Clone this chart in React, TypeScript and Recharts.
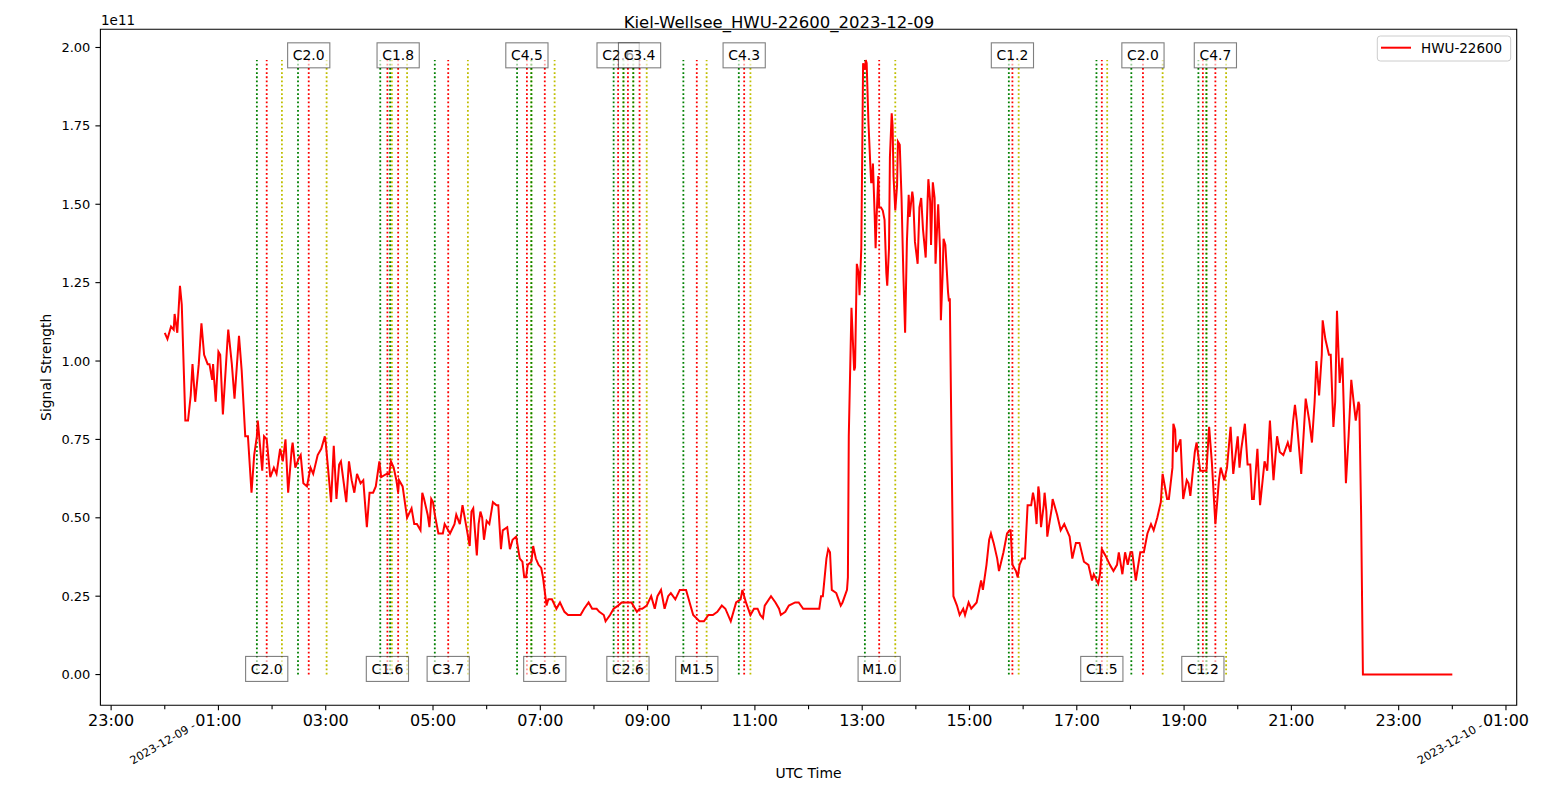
import {
  LineChart,
  Line,
  XAxis,
  YAxis,
  ReferenceLine,
  ReferenceDot,
  ReferenceArea,
} from 'recharts';

const TITLE = 'Kiel-Wellsee_HWU-22600_2023-12-09';
const SERIES_NAME = 'HWU-22600';

// [minutes after 2023-12-09 00:00 UTC, signal strength in units of 1e11]
const SIGNAL: [number, number][] = [
  [0, 1.09], [3, 1.07], [7, 1.11], [10, 1.1], [11, 1.15], [14, 1.09], [17, 1.24], [19, 1.18],
  [23, 0.81], [26, 0.81], [29, 0.89], [31, 0.99], [34, 0.87], [38, 0.99], [41, 1.12], [44, 1.02],
  [48, 0.99], [50, 0.99], [53, 0.94], [54, 0.99], [57, 0.87], [60, 1.03], [62, 1.02], [65, 0.83],
  [70, 1.06], [71, 1.1], [75, 0.99], [78, 0.88], [83, 1.08], [86, 0.97], [90, 0.76], [93, 0.76],
  [97, 0.58], [100, 0.7], [103, 0.76], [104, 0.81], [109, 0.65], [111, 0.76], [114, 0.75], [118, 0.63],
  [122, 0.66], [125, 0.64], [129, 0.72], [132, 0.68], [135, 0.75], [138, 0.58], [142, 0.72], [143, 0.74],
  [146, 0.66], [150, 0.69], [152, 0.7], [155, 0.61], [159, 0.6], [163, 0.66], [166, 0.64], [171, 0.7],
  [175, 0.72], [179, 0.76], [180, 0.74], [186, 0.55], [189, 0.73], [192, 0.56], [195, 0.67], [197, 0.68],
  [203, 0.55], [206, 0.68], [209, 0.62], [212, 0.58], [215, 0.64], [219, 0.61], [222, 0.62], [226, 0.47],
  [229, 0.58], [233, 0.58], [236, 0.6], [240, 0.68], [242, 0.63], [248, 0.64], [251, 0.64], [253, 0.68],
  [256, 0.66], [259, 0.62], [261, 0.58], [262, 0.62], [266, 0.6], [271, 0.5], [276, 0.53], [279, 0.48],
  [282, 0.48], [286, 0.46], [288, 0.58], [290, 0.56], [294, 0.51], [296, 0.47], [298, 0.56], [300, 0.55],
  [302, 0.51], [306, 0.45], [311, 0.45], [313, 0.48], [317, 0.46], [319, 0.45], [324, 0.48], [326, 0.51],
  [330, 0.48], [333, 0.54], [338, 0.46], [341, 0.41], [343, 0.52], [345, 0.53], [349, 0.38], [351, 0.48],
  [353, 0.52], [355, 0.5], [357, 0.43], [360, 0.49], [363, 0.48], [367, 0.55], [371, 0.54], [373, 0.54],
  [376, 0.4], [378, 0.46], [383, 0.47], [386, 0.4], [389, 0.43], [393, 0.44], [397, 0.37], [400, 0.36],
  [402, 0.31], [404, 0.31], [406, 0.35], [410, 0.36], [412, 0.41], [415, 0.37], [418, 0.35], [421, 0.34],
  [423, 0.31], [427, 0.22], [429, 0.24], [433, 0.24], [438, 0.21], [442, 0.23], [447, 0.2], [451, 0.19],
  [456, 0.19], [460, 0.19], [465, 0.19], [469, 0.21], [474, 0.23], [478, 0.21], [483, 0.21], [486, 0.2],
  [491, 0.19], [493, 0.17], [498, 0.19], [502, 0.21], [507, 0.22], [511, 0.23], [515, 0.23], [518, 0.23],
  [522, 0.23], [526, 0.21], [528, 0.2], [531, 0.21], [534, 0.21], [539, 0.22], [544, 0.25], [548, 0.21],
  [551, 0.25], [555, 0.27], [559, 0.21], [563, 0.25], [566, 0.26], [571, 0.24], [576, 0.27], [580, 0.27],
  [583, 0.27], [585, 0.25], [591, 0.19], [598, 0.17], [603, 0.17], [608, 0.19], [613, 0.19], [618, 0.2],
  [623, 0.22], [627, 0.21], [633, 0.17], [639, 0.23], [644, 0.24], [646, 0.27], [650, 0.23], [655, 0.19],
  [659, 0.21], [663, 0.21], [666, 0.19], [669, 0.18], [671, 0.22], [678, 0.25], [683, 0.23], [687, 0.21],
  [689, 0.19], [694, 0.2], [698, 0.22], [705, 0.23], [709, 0.23], [714, 0.21], [718, 0.21], [723, 0.21],
  [727, 0.21], [732, 0.21], [734, 0.25], [736, 0.25], [740, 0.37], [742, 0.4], [744, 0.39], [746, 0.27],
  [751, 0.26], [756, 0.22], [758, 0.23], [763, 0.27], [764, 0.31], [765, 0.76], [768, 1.17], [771, 0.97],
  [772, 0.98], [774, 1.31], [776, 1.28], [777, 1.21], [779, 1.36], [781, 1.95], [783, 1.93], [784, 1.96],
  [785, 1.95], [787, 1.76], [789, 1.63], [790, 1.57], [791, 1.57], [792, 1.63], [794, 1.46], [795, 1.36],
  [796, 1.45], [798, 1.59], [799, 1.49], [801, 1.49], [803, 1.48], [805, 1.45], [807, 1.28], [808, 1.24],
  [810, 1.36], [811, 1.65], [813, 1.79], [814, 1.75], [815, 1.59], [817, 1.48], [819, 1.56], [820, 1.7],
  [822, 1.69], [824, 1.52], [826, 1.28], [828, 1.09], [830, 1.38], [832, 1.53], [833, 1.46], [836, 1.54],
  [837, 1.52], [839, 1.38], [842, 1.31], [844, 1.49], [846, 1.52], [848, 1.42], [851, 1.33], [853, 1.5],
  [854, 1.58], [856, 1.51], [857, 1.37], [859, 1.57], [861, 1.52], [862, 1.31], [864, 1.44], [865, 1.5],
  [867, 1.36], [868, 1.13], [870, 1.28], [871, 1.39], [873, 1.37], [874, 1.32], [876, 1.22], [877, 1.19],
  [878, 1.2], [880, 0.71], [882, 0.25], [886, 0.22], [889, 0.19], [893, 0.21], [895, 0.19], [899, 0.23],
  [902, 0.21], [908, 0.23], [913, 0.3], [915, 0.27], [917, 0.31], [919, 0.35], [922, 0.43], [924, 0.45],
  [927, 0.42], [931, 0.37], [933, 0.33], [938, 0.39], [942, 0.45], [945, 0.46], [946, 0.46], [948, 0.35],
  [952, 0.33], [954, 0.31], [956, 0.35], [959, 0.37], [962, 0.37], [965, 0.54], [969, 0.54], [971, 0.58],
  [973, 0.55], [975, 0.48], [977, 0.6], [978, 0.58], [980, 0.47], [983, 0.54], [984, 0.58], [986, 0.52],
  [987, 0.44], [992, 0.53], [993, 0.56], [998, 0.51], [1002, 0.46], [1006, 0.48], [1009, 0.46], [1012, 0.44],
  [1015, 0.37], [1019, 0.42], [1023, 0.42], [1028, 0.36], [1033, 0.35], [1037, 0.3], [1039, 0.32], [1044, 0.29],
  [1046, 0.32], [1048, 0.4], [1052, 0.38], [1057, 0.35], [1061, 0.33], [1065, 0.35], [1067, 0.39], [1071, 0.32],
  [1074, 0.39], [1077, 0.35], [1080, 0.39], [1082, 0.39], [1086, 0.3], [1091, 0.39], [1095, 0.39], [1099, 0.45],
  [1103, 0.48], [1106, 0.46], [1110, 0.5], [1114, 0.55], [1116, 0.64], [1121, 0.56], [1123, 0.56], [1127, 0.66],
  [1128, 0.8], [1130, 0.78], [1131, 0.71], [1136, 0.75], [1139, 0.56], [1143, 0.62], [1145, 0.61], [1147, 0.57],
  [1152, 0.71], [1154, 0.74], [1158, 0.65], [1162, 0.65], [1165, 0.65], [1168, 0.79], [1171, 0.68], [1175, 0.48],
  [1179, 0.62], [1181, 0.66], [1185, 0.62], [1188, 0.66], [1192, 0.79], [1195, 0.64], [1200, 0.76], [1202, 0.66],
  [1204, 0.72], [1208, 0.8], [1211, 0.67], [1214, 0.67], [1216, 0.56], [1218, 0.56], [1222, 0.72], [1225, 0.54],
  [1230, 0.68], [1233, 0.65], [1236, 0.81], [1240, 0.62], [1244, 0.76], [1247, 0.71], [1251, 0.7], [1256, 0.74],
  [1259, 0.71], [1262, 0.81], [1264, 0.86], [1266, 0.81], [1271, 0.64], [1274, 0.78], [1276, 0.88], [1280, 0.81],
  [1283, 0.74], [1286, 0.87], [1288, 1.0], [1291, 0.89], [1294, 1.02], [1295, 1.13], [1298, 1.07], [1302, 1.02],
  [1304, 1.02], [1307, 0.79], [1309, 0.87], [1311, 1.16], [1314, 0.93], [1317, 1.01], [1320, 0.71], [1321, 0.61],
  [1324, 0.76], [1327, 0.94], [1330, 0.86], [1332, 0.81], [1335, 0.87], [1336, 0.86], [1338, 0.51], [1340, 0],
  [1440, 0],
];

// flares: class, start / peak / end (UTC, 2023-12-09)
const FLARE_CLASS = [
  'C2.0', 'C2.0', 'C1.6', 'C1.8', 'C3.7', 'C4.5', 'C5.6', 'C2.6', 'C2.6',
  'C3.4', 'M1.5', 'C4.3', 'M1.0', 'C1.2', 'C1.5', 'C2.0', 'C1.2', 'C4.7',
];
const FLARE_START = [
  '01:43', '02:29', '04:01', '04:12', '05:02', '06:34', '06:50', '08:22', '08:33',
  '08:44', '09:40', '10:42', '13:03', '15:44', '17:22', '18:01', '19:16', '19:25',
];
const FLARE_PEAK = [
  '01:54', '02:41', '04:09', '04:21', '05:17', '06:45', '07:05', '08:27', '08:38',
  '08:51', '09:55', '10:48', '13:19', '15:48', '17:28', '18:14', '19:21', '19:35',
];
const FLARE_END = [
  '02:11', '03:01', '04:14', '04:31', '05:39', '06:50', '07:16', '08:33', '08:44',
  '08:59', '10:06', '10:55', '13:37', '15:55', '17:34', '18:36', '19:25', '19:47',
];

const MAJOR_TICKS = [-60, 60, 180, 300, 420, 540, 660, 780, 900, 1020, 1140, 1260, 1380, 1500];
const MAJOR_LABELS = [
  '23:00', '01:00', '03:00', '05:00', '07:00', '09:00', '11:00',
  '13:00', '15:00', '17:00', '19:00', '21:00', '23:00', '01:00',
];
const MINOR_TICKS = [0, 120, 240, 360, 480, 600, 720, 840, 960, 1080, 1200, 1320, 1440];
const DATE_TICKS = [0, 1440];
const DATE_LABELS = ['2023-12-09', '2023-12-10'];
const Y_TICKS = [0, 0.25, 0.5, 0.75, 1.0, 1.25, 1.5, 1.75, 2.0];

const W = 1558;
const H = 792;
const FONT = '"DejaVu Sans", sans-serif';
const GREEN = '#008000';
const RED = '#ff0000';
const YELLOW = '#bfbf00';

const toMin = (s: string) => {
  const [h, m] = s.split(':').map(Number);
  return h * 60 + m;
};

const data = SIGNAL.map(([t, v]) => ({ t, v }));
const vMax = Math.max(...SIGNAL.map((p) => p[1]));
const X_MIN = -0.05 * 1440;
const X_MAX = 1.05 * 1440;
const Y_MIN = -0.05 * vMax;
const Y_MAX = vMax * 1.05;

const flares = FLARE_CLASS.map((cls, i) => ({
  cls,
  start: toMin(FLARE_START[i]),
  peak: toMin(FLARE_PEAK[i]),
  end: toMin(FLARE_END[i]),
  top: i % 2 === 1,
}));

function TimeTick({ x, y, payload }: any) {
  const m = payload.value as number;
  const major = MAJOR_TICKS.indexOf(m);
  const date = DATE_TICKS.indexOf(m);
  return (
    <g>
      <line x1={x} x2={x} y1={y} y2={y + (major >= 0 ? 5 : 4)} stroke="#000" strokeWidth={1.1} />
      {major >= 0 && (
        <text x={x} y={y + 21} textAnchor="middle" fontSize={16} fontFamily={FONT} fill="#000">
          {MAJOR_LABELS[major]}
        </text>
      )}
      {date >= 0 && (
        <text
          x={x - 2}
          y={y + 38}
          textAnchor="middle"
          dominantBaseline="central"
          fontSize={11.3}
          fontFamily={FONT}
          fill="#000"
          transform={`rotate(-30 ${x - 2} ${y + 38})`}
        >
          {DATE_LABELS[date] + ' -'}
        </text>
      )}
    </g>
  );
}

function FlareTag({ cx, cy, text }: any) {
  const w = text.length * 8.3 + 9;
  return (
    <g>
      <rect
        x={cx - w / 2}
        y={cy - 12.5}
        width={w}
        height={25}
        fill="#fff"
        fillOpacity={0.6}
        stroke="#000"
        strokeOpacity={0.5}
        strokeWidth={1.1}
      />
      <text
        x={cx}
        y={cy}
        textAnchor="middle"
        dominantBaseline="central"
        fontSize={13.9}
        fontFamily={FONT}
        fill="#000"
      >
        {text}
      </text>
    </g>
  );
}

export default function App() {
  const dotted = { strokeDasharray: '1.8 2.4', strokeWidth: 1.8 };
  return (
    <div style={{ position: 'absolute', left: 0, top: 0, width: W, height: H, background: '#fff' }}>
      <LineChart
        width={W}
        height={H}
        data={data}
        margin={{ top: 29.3, right: 41.3, bottom: 0, left: 0 }}
      >
        <XAxis
          dataKey="t"
          type="number"
          domain={[X_MIN, X_MAX]}
          allowDataOverflow
          ticks={[...MAJOR_TICKS, ...MINOR_TICKS].sort((a, b) => a - b)}
          interval={0}
          tick={<TimeTick />}
          tickLine={false}
          axisLine={false}
          tickSize={0}
          tickMargin={0}
          height={86.7}
        />
        <YAxis
          type="number"
          domain={[Y_MIN, Y_MAX]}
          allowDataOverflow
          ticks={Y_TICKS}
          interval={0}
          tickFormatter={(v: number) => v.toFixed(2)}
          tick={{ fontSize: 13, fontFamily: FONT, fill: '#000' }}
          tickLine={{ stroke: '#000', strokeWidth: 1.1 }}
          tickSize={5}
          tickMargin={5}
          axisLine={false}
          width={100.4}
        />
        {flares.map((f, i) => [
          <ReferenceLine
            key={`s${i}`}
            segment={[{ x: f.start, y: 0 }, { x: f.start, y: vMax }]}
            stroke={GREEN}
            {...dotted}
          />,
          <ReferenceLine
            key={`p${i}`}
            segment={[{ x: f.peak, y: 0 }, { x: f.peak, y: vMax }]}
            stroke={RED}
            {...dotted}
          />,
          <ReferenceLine
            key={`e${i}`}
            segment={[{ x: f.end, y: 0 }, { x: f.end, y: vMax }]}
            stroke={YELLOW}
            {...dotted}
          />,
        ])}
        <Line
          dataKey="v"
          type="linear"
          stroke={RED}
          strokeWidth={2}
          dot={false}
          activeDot={false}
          isAnimationActive={false}
        />
        {flares.map((f, i) => (
          <ReferenceDot
            key={`l${i}`}
            x={f.peak}
            y={f.top ? 1.975 : 0.018}
            r={1}
            shape={(p: any) => <FlareTag cx={p.cx} cy={p.cy} text={f.cls} />}
          />
        ))}
        <ReferenceArea
          x1={X_MIN}
          x2={X_MAX}
          y1={Y_MIN}
          y2={Y_MAX}
          fill="none"
          fillOpacity={0}
          stroke="#000"
          strokeWidth={1.1}
        />
      </LineChart>
      <svg
        width={W}
        height={H}
        style={{ position: 'absolute', left: 0, top: 0, pointerEvents: 'none' }}
        fontFamily={FONT}
      >
        <text x={779} y={27.7} textAnchor="middle" fontSize={16.5} fill="#000">
          {TITLE}
        </text>
        <text x={101} y={25} fontSize={13.5} fill="#000">
          1e11
        </text>
        <text
          x={46}
          y={367.3}
          textAnchor="middle"
          dominantBaseline="central"
          fontSize={13.9}
          fill="#000"
          transform="rotate(-90 46 367.3)"
        >
          Signal Strength
        </text>
        <text x={808.5} y={778} textAnchor="middle" fontSize={13.9} fill="#000">
          UTC Time
        </text>
        <rect x={1377.3} y={36} width={133.4} height={25} rx={3} fill="#fff" fillOpacity={0.8} stroke="#cccccc" />
        <line x1={1381} x2={1411} y1={47.7} y2={47.7} stroke={RED} strokeWidth={2} />
        <text x={1421} y={52.5} fontSize={13.5} fill="#000">
          {SERIES_NAME}
        </text>
      </svg>
    </div>
  );
}
